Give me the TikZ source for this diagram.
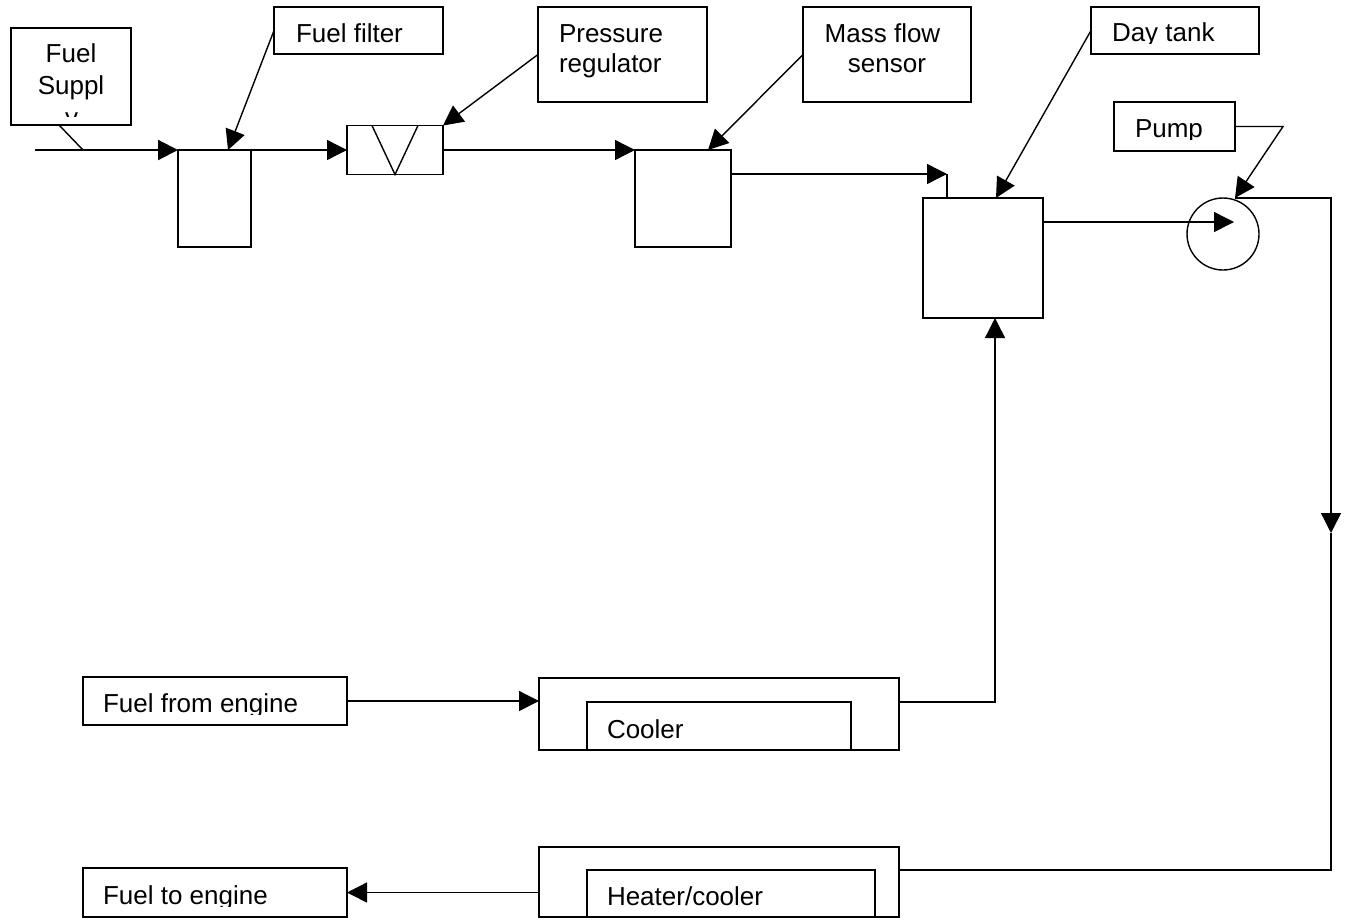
\documentclass[tikz,border=0pt]{standalone}
\usepackage{fontspec}
\setmainfont{Liberation Sans}
\usetikzlibrary{arrows.meta,calc}
\begin{document}
\begin{tikzpicture}[x=1pt,y=-1pt,
  box/.style={draw,line width=1.4pt,inner sep=0pt,outer sep=0pt,rectangle},
  txt/.style={inner sep=0pt,outer sep=0pt,font=\fontsize{26pt}{30pt}\selectfont,anchor=base west},
  ctxt/.style={txt,anchor=base},
  ln/.style={line width=1.4pt},
  arr/.style={ln,-{Triangle[length=20pt,width=20pt]}},
  thick line/.style={line width=2.2pt,-{Triangle[length=20pt,width=20pt]}}
]
\useasboundingbox (0,0) rectangle (1348,919);

% --- boxes ---
\node[box,minimum width=120pt,minimum height=97pt] (sup) at (71,76.5) {};
\node[box,minimum width=73pt,minimum height=97pt] (filter) at (214.5,198.5) {};
\node[box,minimum width=169pt,minimum height=47pt] (filterlbl) at (358.5,30.5) {};
\node[box,minimum width=96pt,minimum height=49pt] (reg) at (395,150) {};
\node[box,minimum width=169pt,minimum height=95pt] (reglbl) at (622.5,54.5) {};
\node[box,minimum width=96pt,minimum height=97pt] (mfs) at (683,198.5) {};
\node[box,minimum width=168pt,minimum height=95pt] (mfslbl) at (887,54.5) {};
\node[box,minimum width=120pt,minimum height=120pt] (tank) at (983,258) {};
\node[box,minimum width=168pt,minimum height=47pt] (tanklbl) at (1175,30.5) {};
\node[box,minimum width=121pt,minimum height=49pt] (pumplbl) at (1174.5,126.5) {};
\node[draw,line width=1.4pt,circle,inner sep=0pt,outer sep=0pt,minimum size=72pt] (pump) at (1223,234) {};
\node[box,minimum width=264pt,minimum height=48pt] (fromeng) at (215,701) {};
\node[box,minimum width=264pt,minimum height=49pt] (toeng) at (215,892.5) {};
\node[box,minimum width=360pt,minimum height=72pt] (cout) at (719,714) {};
\node[box,minimum width=264pt,minimum height=48pt] (cin) at (719,726) {};
\node[box,minimum width=360pt,minimum height=70pt] (hout) at (719,882) {};
\node[box,minimum width=288pt,minimum height=47pt] (hin) at (731,893.5) {};

% --- texts ---
\begin{scope}
  \clip (11,28) rectangle (131,116.5);
  \node[ctxt] (supt1) at (71,62) {Fuel};
  \node[ctxt] (supt2) at (71,94.5) {Suppl};
  \node[ctxt] (supt3) at (71.5,126) {y};
\end{scope}
\node[txt] (filtert) at (296,42) {Fuel filter};
\node[txt] (regt1) at (559,42) {Pressure};
\node[txt] (regt2) at (559,72) {regulator};
\node[ctxt] (mfst1) at (882.5,42) {Mass flow};
\node[ctxt] (mfst2) at (887,72) {sensor};
\begin{scope}
  \clip (1091,7) rectangle (1259,43.2);
  \node[txt] (tankt) at (1112,41.8) {Day tank};
\end{scope}
\begin{scope}
  \clip (1114,102) rectangle (1235,139.3);
  \node[txt] (pumpt) at (1135,137.3) {Pump};
\end{scope}
\begin{scope}
  \clip (83,677) rectangle (347,714.3);
  \node[txt] (fromengt) at (103,712.3) {Fuel from engine};
\end{scope}
\begin{scope}
  \clip (83,868) rectangle (347,906.7);
  \node[txt] (toengt) at (103,904.3) {Fuel to engine};
\end{scope}
\node[txt] (cint) at (607,738.3) {Cooler};
\node[txt] (hint) at (607,905) {Heater/cooler};

% --- coordinates ---
\coordinate (s0) at (35,150);
\coordinate (s1) at (83,150);
\coordinate (ft) at (228,150);
\coordinate (mt) at (708,150);
\coordinate (m1) at (731,174);
\coordinate (m2) at (947,174);
\coordinate (m3) at (947,198);
\coordinate (tt) at (996,198);
\coordinate (p1) at (1043,222);
\coordinate (p2) at (1234,222);
\coordinate (pk) at (1283,126.5);
\coordinate (pt) at (1235,198);
\coordinate (r1) at (1331,198);
\coordinate (r2) at (1331,533);
\coordinate (ct) at (995,318);

% --- connectors ---
\draw[thick line] (s0) -- (filter.north west);
\draw[ln] ($(sup.south)+(-12,0)$) -- (s1);
\draw[arr] (filterlbl.west) -- (ft);
\draw[arr] (filter.north east) -- (reg.west);
\draw[ln] ($(reg.north)+(-23,0)$) -- (reg.south) -- ($(reg.north)+(23,0)$);
\draw[arr] (reglbl.west) -- (reg.north east);
\draw[arr] (reg.east) -- (mfs.north west);
\draw[arr] (mfslbl.west) -- (mt);
\draw[arr] (m1) -- (m2);
\draw[ln] (m2) -- (m3);
\draw[arr] (tanklbl.west) -- (tt);
\draw[arr] (p1) -- (p2);
\draw[arr] (pumplbl.east) -- (pk) -- (pt);
\draw[arr] (pt) -- (r1) -- (r2);
\draw[ln] (r2) |- (hout.east |- hin.north);
\draw[arr] (cout.east |- cin.north) -| (ct);
\draw[arr] (fromeng.east) -- (cout.west |- fromeng.east);
\draw[arr] (hout.west |- toeng.east) -- (toeng.east);
\end{tikzpicture}
\end{document}
